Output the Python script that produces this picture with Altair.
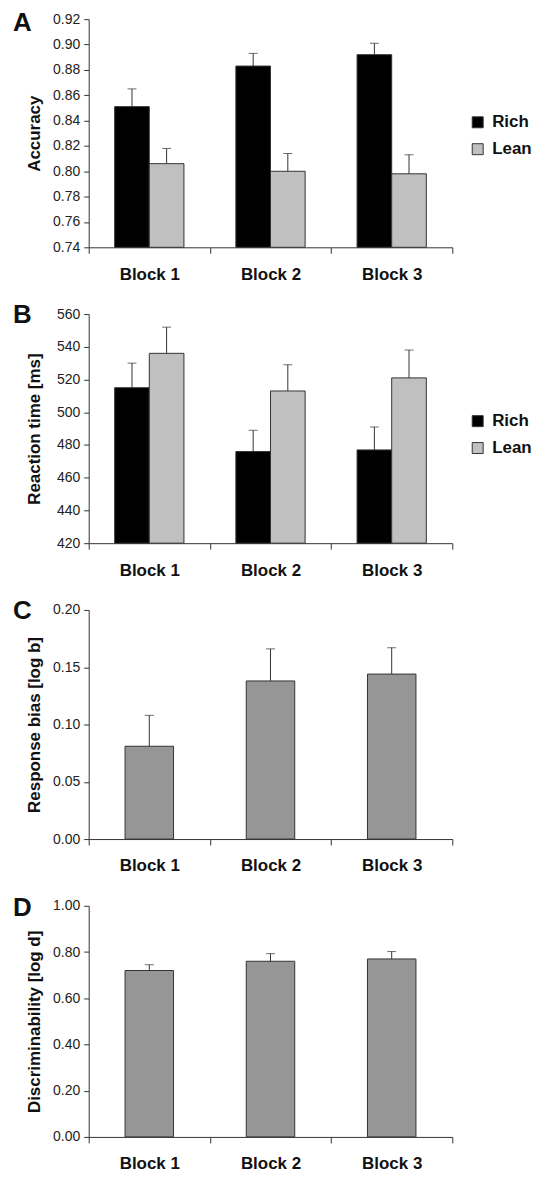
import altair as alt
import pandas as pd

FONT = "Liberation Sans"

blocks = ["Block 1", "Block 2", "Block 3"]
groups = ["Rich", "Lean"]

acc_rich = [0.851, 0.883, 0.892]
acc_rich_se = [0.014, 0.010, 0.009]
acc_lean = [0.806, 0.800, 0.798]
acc_lean_se = [0.012, 0.014, 0.015]
acc_ticks = [0.74, 0.76, 0.78, 0.80, 0.82, 0.84, 0.86, 0.88, 0.90, 0.92]

rt_rich = [515, 476, 477]
rt_rich_se = [15, 13, 14]
rt_lean = [536, 513, 521]
rt_lean_se = [16, 16, 17]
rt_ticks = [420, 440, 460, 480, 500, 520, 540, 560]

bias = [0.081, 0.138, 0.144]
bias_se = [0.027, 0.028, 0.023]
bias_ticks = [0.0, 0.05, 0.10, 0.15, 0.20]

disc = [0.72, 0.76, 0.77]
disc_se = [0.025, 0.033, 0.032]
disc_ticks = [0.0, 0.2, 0.4, 0.6, 0.8, 1.0]

DARK = "#333333"
W = 365


def x_enc():
    return alt.X("block:N", scale=alt.Scale(domain=blocks, paddingInner=0, paddingOuter=0),
                 axis=alt.Axis(title=None, labelAngle=0, tickBand="extent", tickSize=6,
                               tickColor=DARK, domainColor=DARK, labelPadding=13,
                               labelFont=FONT, labelFontSize=17, labelFontWeight="bold",
                               labelColor="#111111", grid=False))


def y_enc(field, title, ticks, fmt):
    return alt.Y(field, scale=alt.Scale(domain=[ticks[0], ticks[-1]], zero=False, nice=False),
                 axis=alt.Axis(title=title, values=ticks, format=fmt, grid=False,
                               labelOverlap=False, tickSize=5, tickColor=DARK,
                               domainColor=DARK, labelFont=FONT, labelFontSize=14,
                               labelColor="#222222", labelPadding=4, titleFont=FONT,
                               titleFontSize=17, titleFontWeight="bold",
                               titleColor="#111111", titleX=-54, titleBaseline="middle"))


def letter(t, yb):
    return alt.Chart(pd.DataFrame({"t": [t]})).mark_text(
        align="left", baseline="alphabetic", font=FONT, fontSize=26,
        fontWeight="bold", color="#111111"
    ).encode(x=alt.value(-76), y=alt.value(yb), text="t:N")


def grouped(rich, rich_se, lean, lean_se, title, ticks, fmt, height, legy, tag, yb):
    rows = []
    for i, b in enumerate(blocks):
        rows.append({"block": b, "group": "Rich", "mean": rich[i],
                     "top": rich[i] + rich_se[i], "base": ticks[0]})
        rows.append({"block": b, "group": "Lean", "mean": lean[i],
                     "top": lean[i] + lean_se[i], "base": ticks[0]})
    df = pd.DataFrame(rows)
    xs = x_enc()
    xo = alt.XOffset("group:N", scale=alt.Scale(domain=groups, paddingInner=0, paddingOuter=0.75))
    base = alt.Chart(df)
    bars = base.mark_bar(stroke=DARK, strokeWidth=1).encode(
        x=xs, xOffset=xo, y=y_enc("mean:Q", title, ticks, fmt), y2="base:Q",
        color=alt.Color("group:N", scale=alt.Scale(domain=groups, range=["#000000", "#c0c0c0"]),
                        legend=alt.Legend(title=None, orient="none", legendX=382, legendY=legy,
                                          symbolType="square", symbolSize=121,
                                          symbolStrokeColor=DARK, symbolStrokeWidth=1,
                                          labelFont=FONT, labelFontSize=17, labelFontWeight="bold",
                                          labelColor="#111111", labelOffset=6, rowPadding=9)),
    )
    rule = base.mark_rule(color=DARK, strokeWidth=1).encode(
        x=xs, xOffset=xo, y=y_enc("mean:Q", title, ticks, fmt), y2="top:Q")
    cap = base.mark_tick(color=DARK, size=9, thickness=1).encode(
        x=xs, xOffset=xo, y=y_enc("top:Q", title, ticks, fmt))
    return alt.layer(bars, rule, cap, letter(tag, yb)).properties(width=W, height=height)


def single(vals, se, title, ticks, fmt, height, tag, yb):
    df = pd.DataFrame({"block": blocks, "mean": vals,
                       "top": [v + s for v, s in zip(vals, se)],
                       "base": [ticks[0]] * len(vals)})
    xs = x_enc()
    base = alt.Chart(df)
    bars = base.mark_bar(color="#969696", stroke=DARK, strokeWidth=1,
                         width=alt.RelativeBandSize(0.4)).encode(
        x=xs, y=y_enc("mean:Q", title, ticks, fmt), y2="base:Q")
    rule = base.mark_rule(color=DARK, strokeWidth=1).encode(
        x=xs, y=y_enc("mean:Q", title, ticks, fmt), y2="top:Q")
    cap = base.mark_tick(color=DARK, size=9, thickness=1).encode(
        x=xs, y=y_enc("top:Q", title, ticks, fmt))
    return alt.layer(bars, rule, cap, letter(tag, yb)).properties(width=W, height=height)


pA = grouped(acc_rich, acc_rich_se, acc_lean, acc_lean_se, "Accuracy", acc_ticks, ".2f", 229, 95, "A", 12)
pB = grouped(rt_rich, rt_rich_se, rt_lean, rt_lean_se, "Reaction time [ms]", rt_ticks, "d", 230, 99, "B", 9)
pC = single(bias, bias_se, "Response bias [log b]", bias_ticks, ".2f", 230, "C", 9)
pD = single(disc, disc_se, "Discriminability [log d]", disc_ticks, ".2f", 232, "D", 10)

chart = alt.vconcat(pA, pB, pC, pD, spacing=67, bounds="flush").resolve_scale(
    color="independent"
).configure_view(stroke=None).properties(
    padding={"left": 5, "top": 0, "right": 0, "bottom": 0}
)

chart.save("out.html", embed_options={"renderer": "svg", "actions": False})
